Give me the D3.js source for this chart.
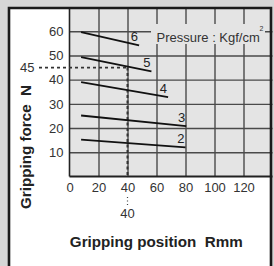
<!DOCTYPE html>
<html>
<head>
<meta charset="utf-8">
<script src="https://cdn.jsdelivr.net/npm/d3@7"></script>
<style>
body { margin: 0; background: #d6d6d6; }
svg { display: block; font-family: "Liberation Sans", Arial, sans-serif; }
</style>
</head>
<body>
<svg></svg>
<script>
// pressure curves, gripping force vs gripping position
const pressures = ['2', '3', '4', '5', '6'];
const startPos = [8, 8, 8, 8, 8];
const endPos = [80, 80.5, 68, 56.5, 48];
const startForce = [15.2, 25.2, 39, 49.3, 59.6];
const endForce = [12, 20.8, 32.8, 43.4, 54.2];

const xTicks = [0, 20, 40, 60, 80, 100, 120];
const yTicks = [10, 20, 30, 40, 50, 60];
const gridX = [20, 40, 60, 80, 100, 120];
const gridY = [10, 20, 30, 40, 50, 60];

// example reading: 40 mm -> 45 N
const readPos = 40;
const readForce = 45;

const w = 274, h = 266;
const left = 69.5, bottom = 176.5;
const plotBg = '#e4e4e4';

const svg = d3.select('svg')
	.attr('width', w)
	.attr('height', h);

svg.append('rect')
	.attr('width', w).attr('height', h)
	.attr('fill', '#d6d6d6');

// white panel (open at bottom)
svg.append('rect')
	.attr('x', 9).attr('y', 8)
	.attr('width', 262).attr('height', 280)
	.attr('fill', '#fff');

const x = d3.scaleLinear().domain([0, 140]).range([left, 272.5]);
const y = d3.scaleLinear().domain([0, 70]).range([bottom, 7]);

svg.append('rect')
	.attr('x', x(0)).attr('y', y(70))
	.attr('width', x(140) - x(0))
	.attr('height', y(0) - y(70))
	.attr('fill', plotBg);

// grid
const xGrid = d3.axisBottom(x)
	.tickValues(gridX)
	.tickFormat('')
	.tickSizeOuter(0)
	.tickSizeInner(-(y(0) - y(70)));
svg.append('g')
	.attr('transform', `translate(0,${bottom})`)
	.call(xGrid)
	.call(g => g.select('.domain').remove())
	.call(g => g.selectAll('line').attr('stroke', '#4a4a4a').attr('stroke-width', 1.4));

const yGrid = d3.axisLeft(y)
	.tickValues(gridY)
	.tickFormat('')
	.tickSizeOuter(0)
	.tickSizeInner(-(x(140) - x(0)));
svg.append('g')
	.attr('transform', `translate(${left},0)`)
	.call(yGrid)
	.call(g => g.select('.domain').remove())
	.call(g => g.selectAll('line').attr('stroke', '#4a4a4a').attr('stroke-width', 1.4));

// legend label box covers grid
svg.append('rect')
	.attr('x', 151).attr('y', 24)
	.attr('width', 114).attr('height', 20)
	.attr('fill', plotBg);
svg.append('text')
	.attr('x', 156.5).attr('y', 41.5)
	.attr('font-size', 13)
	.attr('fill', '#333')
	.text('Pressure : Kgf/cm');
svg.append('text')
	.attr('x', 259.5).attr('y', 30.5)
	.attr('font-size', 7)
	.attr('fill', '#333')
	.text('2');

// axes lines
svg.append('line')
	.attr('x1', x(0)).attr('x2', x(140))
	.attr('y1', bottom).attr('y2', bottom)
	.attr('stroke', '#222').attr('stroke-width', 2);
svg.append('line')
	.attr('x1', left).attr('x2', left)
	.attr('y1', y(70)).attr('y2', bottom)
	.attr('stroke', '#222').attr('stroke-width', 1.6);

// tick labels
svg.append('g')
	.attr('transform', `translate(0,${bottom})`)
	.call(d3.axisBottom(x).tickValues(xTicks).tickSize(0).tickPadding(6.5))
	.call(g => g.select('.domain').remove())
	.call(g => g.selectAll('text')
		.attr('font-size', 13)
		.attr('font-family', '"Liberation Sans", Arial, sans-serif')
		.attr('fill', '#333'));

svg.append('g')
	.attr('transform', `translate(${left},0)`)
	.call(d3.axisLeft(y).tickValues(yTicks).tickSize(0).tickPadding(6))
	.call(g => g.select('.domain').remove())
	.call(g => g.selectAll('text')
		.attr('font-size', 13)
		.attr('font-family', '"Liberation Sans", Arial, sans-serif')
		.attr('fill', '#333'));

// reading lines
svg.append('line')
	.attr('x1', 39).attr('x2', x(readPos))
	.attr('y1', y(readForce)).attr('y2', y(readForce))
	.attr('stroke', '#333').attr('stroke-width', 1.8)
	.attr('stroke-dasharray', '3,3');
svg.append('line')
	.attr('x1', x(readPos)).attr('x2', x(readPos))
	.attr('y1', y(readForce)).attr('y2', y(0))
	.attr('stroke', '#333').attr('stroke-width', 2)
	.attr('stroke-dasharray', '3,2.5');
svg.append('line')
	.attr('x1', x(readPos)).attr('x2', x(readPos))
	.attr('y1', 197).attr('y2', 206)
	.attr('stroke', '#444').attr('stroke-width', 1.2)
	.attr('stroke-dasharray', '1,2.5');
svg.append('text')
	.attr('x', x(readPos)).attr('y', 213)
	.attr('dy', '0.35em')
	.attr('text-anchor', 'middle')
	.attr('font-size', 13)
	.attr('fill', '#333')
	.text(readPos);
svg.append('text')
	.attr('x', 34.5).attr('y', y(readForce))
	.attr('dy', '0.35em')
	.attr('text-anchor', 'end')
	.attr('font-size', 13)
	.attr('fill', '#333')
	.text(readForce);

// curves
const curves = pressures.map((p, i) => ({
	p: p, x0: startPos[i], x1: endPos[i], y0: startForce[i], y1: endForce[i]
}));

svg.selectAll('.curve')
	.data(curves)
	.enter()
	.append('line')
		.attr('class', 'curve')
		.attr('x1', d => x(d.x0)).attr('y1', d => y(d.y0))
		.attr('x2', d => x(d.x1)).attr('y2', d => y(d.y1))
		.attr('stroke', '#111')
		.attr('stroke-width', 1.8);

svg.selectAll('.plabel')
	.data(curves)
	.enter()
	.append('text')
		.attr('class', 'plabel')
		.attr('text-anchor', 'end')
		.attr('x', d => x(d.x1) - 1)
		.attr('y', d => y(d.y1) - 4)
		.attr('font-size', 13)
		.attr('fill', '#222')
		.text(d => d.p);

// axis titles
svg.append('text')
	.attr('x', 156.3).attr('y', 247)
	.attr('text-anchor', 'middle')
	.attr('font-size', 15.2)
	.attr('font-weight', 'bold')
	.attr('fill', '#222')
	.text('Gripping position\u00a0\u00a0Rmm');

svg.append('text')
	.attr('transform', 'translate(31,147) rotate(-90)')
	.attr('text-anchor', 'middle')
	.attr('font-size', 15.2)
	.attr('font-weight', 'bold')
	.attr('fill', '#222')
	.text('Gripping force\u00a0\u00a0N');

// panel border
svg.append('path')
	.attr('d', 'M9,270 V8 H271 V270')
	.attr('fill', 'none')
	.attr('stroke', '#1a1a1a')
	.attr('stroke-width', 2.6);
</script>
</body>
</html>
